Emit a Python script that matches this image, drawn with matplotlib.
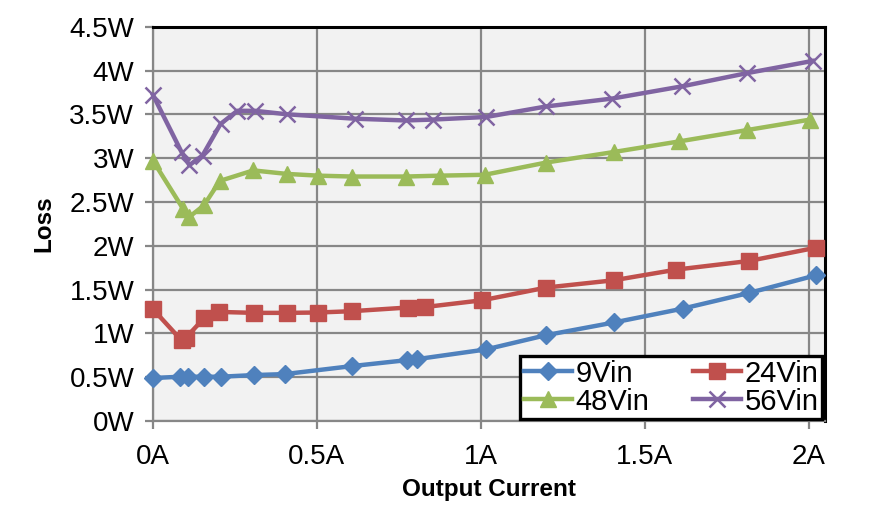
import matplotlib
matplotlib.use('Agg')
import matplotlib.pyplot as plt
from matplotlib.ticker import FuncFormatter, MultipleLocator

plt.rcParams['font.family'] = ['Liberation Sans', 'DejaVu Sans']

# données (courant en A, pertes en W)
x_9v = [0, 0.082, 0.108, 0.155, 0.206, 0.308, 0.402, 0.606, 0.776, 0.806, 1.015,
        1.2, 1.406, 1.617, 1.818, 2.023]
loss_9v = [0.49, 0.505, 0.505, 0.505, 0.505, 0.524, 0.535, 0.626, 0.695, 0.706, 0.816,
           0.98, 1.124, 1.283, 1.461, 1.663]

x_24v = [0, 0.087, 0.10, 0.155, 0.2, 0.308, 0.408, 0.504, 0.606, 0.778, 0.829, 1.005,
         1.2, 1.406, 1.597, 1.818, 2.023]
loss_24v = [1.276, 0.92, 0.95, 1.17, 1.245, 1.234, 1.234, 1.238, 1.253, 1.295, 1.30, 1.378,
            1.523, 1.606, 1.728, 1.826, 1.978]

x_48v = [0, 0.092, 0.111, 0.155, 0.204, 0.306, 0.408, 0.504, 0.606, 0.771, 0.875, 1.012,
         1.2, 1.406, 1.604, 1.812, 2.005]
loss_48v = [2.97, 2.42, 2.33, 2.46, 2.74, 2.86, 2.82, 2.80, 2.79, 2.79, 2.80, 2.81,
            2.95, 3.07, 3.19, 3.32, 3.44]

x_56v = [0, 0.087, 0.111, 0.151, 0.206, 0.257, 0.311, 0.41, 0.616, 0.771, 0.853, 1.017,
         1.2, 1.401, 1.615, 1.812, 2.013]
loss_56v = [3.72, 3.07, 2.92, 3.03, 3.39, 3.54, 3.54, 3.50, 3.45, 3.43, 3.44, 3.47,
            3.59, 3.68, 3.82, 3.97, 4.11]

fig = plt.figure(figsize=(8.86, 5.31), dpi=100)
ax = fig.add_axes([0.1727, 0.2072, 0.9311 - 0.1727, 0.9497 - 0.2072])
ax.set_facecolor('#F2F2F2')

l9, = ax.plot(x_9v, loss_9v, color='#4F81BD', lw=3.2, marker='D', ms=9.5,
              label='9Vin', clip_on=False, zorder=3)
l24, = ax.plot(x_24v, loss_24v, color='#C0504D', lw=3.2, marker='s', ms=11,
               label='24Vin', clip_on=False, zorder=3)
l48, = ax.plot(x_48v, loss_48v, color='#9BBB59', lw=3.2, marker='^', ms=11.5,
               label='48Vin', clip_on=False, zorder=3)
l56, = ax.plot(x_56v, loss_56v, color='#8064A2', lw=3.2, marker='x', ms=11, mew=1.8,
               label='56Vin', clip_on=False, zorder=3)

ax.set_xlim(0, 2.05)
ax.set_ylim(0, 4.5)
ax.xaxis.set_major_locator(MultipleLocator(0.5))
ax.yaxis.set_major_locator(MultipleLocator(0.5))
ax.xaxis.set_major_formatter(FuncFormatter(lambda v, p: f'{v:g}A'))
ax.yaxis.set_major_formatter(FuncFormatter(lambda v, p: f'{v:g}W'))

ax.grid(True, color='#878787', lw=1.6, zorder=0)
ax.set_axisbelow(True)

for s in ['left', 'bottom']:
    ax.spines[s].set_color('#878787')
    ax.spines[s].set_linewidth(1.6)
for s in ['top', 'right']:
    ax.spines[s].set_color('black')
    ax.spines[s].set_linewidth(2.2)

ax.tick_params(axis='both', labelsize=20, length=5.5, width=1.6, color='#878787')
ax.tick_params(axis='y', pad=8)
ax.tick_params(axis='x', pad=11)

ax.set_xlabel('Output Current', fontsize=17.5, fontweight='bold', labelpad=6)
ax.set_ylabel('Loss', fontsize=17.5, fontweight='bold', labelpad=10)

# ordre par lignes : 9Vin 24Vin / 48Vin 56Vin
leg = ax.legend([l9, l48, l24, l56], ['9Vin', '48Vin', '24Vin', '56Vin'],
                ncol=2, loc='lower right', fontsize=21, frameon=True, fancybox=False,
                handlelength=1.65, handletextpad=0.12, columnspacing=1.5,
                borderpad=0.12, labelspacing=0.0, borderaxespad=0.0,
                bbox_to_anchor=(0.9955, 0.005))
leg.get_frame().set_edgecolor('black')
leg.get_frame().set_linewidth(2.4)
leg.get_frame().set_facecolor('white')
leg.get_frame().set_alpha(1)

fig.savefig('out.png', dpi=100)
